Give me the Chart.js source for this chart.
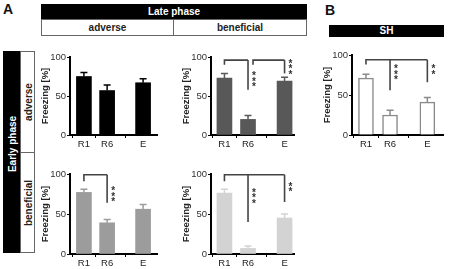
<!DOCTYPE html>
<html>
<head>
<meta charset="utf-8">
<script src="https://cdn.jsdelivr.net/npm/chart.js@4.4.1/dist/chart.umd.min.js"></script>
<style>
body { margin: 0; background: #fff; font-family: "Liberation Sans", Arial, sans-serif; }
#fig { position: relative; width: 454px; height: 269px; overflow: hidden; }
.abs { position: absolute; box-sizing: border-box; }
.blk { background: #000; color: #fff; font-weight: bold; font-size: 10px; text-align: center; }
.cell { border: 1px solid #666; color: #222; font-weight: bold; font-size: 10px; text-align: center; }
.rot { position: absolute; left: 50%; top: 50%; transform: translate(-50%, -50%) rotate(-90deg); white-space: nowrap; }
.letter { font-weight: bold; font-size: 14px; color: #111; }
canvas { position: absolute; }
</style>
</head>
<body>
<div id="fig">
  <div class="abs letter" style="left:3px; top:1px;">A</div>
  <div class="abs letter" style="left:325px; top:2px;">B</div>

  <div class="abs blk" style="left:41px; top:4px; width:266px; height:15px; line-height:15px;">Late phase</div>
  <div class="abs cell" style="left:41px; top:19px; width:133px; height:17px; line-height:15px;">adverse</div>
  <div class="abs cell" style="left:173px; top:19px; width:134px; height:17px; line-height:15px;">beneficial</div>
  <div class="abs blk" style="left:329px; top:25px; width:115px; height:12px; line-height:12px;">SH</div>

  <div class="abs blk" style="left:3px; top:51px; width:18px; height:202px;"><span class="rot" style="top:46%;">Early phase</span></div>
  <div class="abs cell" style="left:20px; top:51px; width:15px; height:102px;"><span class="rot">adverse</span></div>
  <div class="abs cell" style="left:20px; top:152px; width:15px; height:101px;"><span class="rot">beneficial</span></div>

  <canvas id="p1"></canvas>
  <canvas id="p2"></canvas>
  <canvas id="p3"></canvas>
  <canvas id="p4"></canvas>
  <canvas id="pB"></canvas>
</div>

<script>
// groups on the x axis
const groups = ['R1', 'R6', 'E'];

// freezing [%], mean and SEM, per panel
const earlyAdvLateAdv = [75, 57, 67];
const earlyAdvLateAdvErr = [5, 7, 5];
const earlyAdvLateBen = [73, 20, 69];
const earlyAdvLateBenErr = [6, 5, 5];
const earlyBenLateAdv = [77, 39, 56];
const earlyBenLateAdvErr = [4, 4, 6];
const earlyBenLateBen = [76, 7, 45];
const earlyBenLateBenErr = [5, 3, 5];
const sh = [71, 25, 41];
const shErr = [5, 6, 6];

const yTicks = [0, 50, 100];

// significance brackets (value units)
const sig1 = [];
const sig2 = [
	{ from: 0, level: 96, dropFrom: 90, targets: [{ i: 1, to: 58, stars: 3, at: 80 }] },
	{ from: 1, level: 96, dropFrom: 90, shift: 5, targets: [{ i: 2, to: 79, stars: 3, at: 96 }] }
];
const sig3 = [
	{ from: 0, level: 99, dropFrom: 91, targets: [{ i: 1, to: 64, stars: 3, at: 83 }] }
];
const sig4 = [
	{ from: 0, level: 99, dropFrom: 91, targets: [{ i: 1, to: 40, stars: 3, at: 81 }, { i: 2, to: 65, stars: 2, at: 89 }] }
];
const sigB = [
	{ from: 0, level: 94, dropFrom: 88, targets: [{ i: 1, to: 56, stars: 3, at: 87 }, { i: 2, to: 66, stars: 2, at: 87 }] }
];

// where the three groups sit on the linear x axis
const xAt = [1, 2, 3.55];

const AXW = 34, PADT = 12, PADR = 6, XH = 16;

// error bars (upper half) and significance brackets, drawn on top of the bars
function decor(vals, errs, sig, errColor) {
	return {
		id: 'decor',
		afterDatasetsDraw(chart) {
			const ctx = chart.ctx, xs = chart.scales.x, ys = chart.scales.y;
			ctx.save();
			ctx.strokeStyle = errColor;
			ctx.lineWidth = 1.5;
			vals.forEach((v, i) => {
				const x = xs.getPixelForValue(xAt[i]);
				const y0 = ys.getPixelForValue(v);
				const y1 = ys.getPixelForValue(v + errs[i]);
				ctx.beginPath();
				ctx.moveTo(x, y0); ctx.lineTo(x, y1);
				ctx.moveTo(x - 3.5, y1); ctx.lineTo(x + 3.5, y1);
				ctx.stroke();
			});
			ctx.strokeStyle = '#444';
			ctx.lineWidth = 1.6;
			ctx.fillStyle = '#333';
			ctx.font = 'bold 10px "Liberation Sans", Arial';
			ctx.textAlign = 'center';
			ctx.textBaseline = 'top';
			sig.forEach(b => {
				const xa = xs.getPixelForValue(xAt[b.from]) + (b.shift || 0);
				const yl = ys.getPixelForValue(b.level);
				const last = b.targets[b.targets.length - 1];
				const xb = xs.getPixelForValue(xAt[last.i]);
				ctx.beginPath();
				ctx.moveTo(xa, ys.getPixelForValue(b.dropFrom));
				ctx.lineTo(xa, yl);
				ctx.lineTo(xb, yl);
				ctx.stroke();
				b.targets.forEach(t => {
					const xt = xs.getPixelForValue(xAt[t.i]);
					ctx.beginPath();
					ctx.moveTo(xt, yl);
					ctx.lineTo(xt, ys.getPixelForValue(t.to));
					ctx.stroke();
					const ys0 = ys.getPixelForValue(t.at);
					for (let k = 0; k < t.stars; k++) {
						ctx.fillText('*', xt + 6, ys0 + k * 5.5 - 1);
					}
				});
			});
			ctx.restore();
		}
	};
}

function panel(id, box, vals, errs, sig, color) {
	const cv = document.getElementById(id);
	const w = box.R - box.L + AXW + PADR;
	const h = box.B - box.T + PADT + XH;
	cv.width = w; cv.height = h;
	cv.style.left = (box.L - AXW) + 'px';
	cv.style.top = (box.T - PADT) + 'px';
	cv.style.width = w + 'px';
	cv.style.height = h + 'px';
	const fill = color.fill;
	new Chart(cv, {
		type: 'bar',
		data: {
			datasets: [{
				data: vals.map((v, i) => ({ x: xAt[i], y: v })),
				backgroundColor: fill,
				borderColor: color.border || fill,
				borderWidth: color.border ? 1.5 : 0,
				barThickness: 15
			}]
		},
		options: {
			responsive: false,
			animation: false,
			events: [],
			layout: { padding: { top: PADT, right: PADR, left: 0, bottom: 0 } },
			plugins: {
				legend: { display: false },
				tooltip: { enabled: false }
			},
			scales: {
				x: {
					type: 'linear',
					offset: false,
					min: box.xmin, max: box.xmax,
					afterBuildTicks: s => { s.ticks = xAt.map(v => ({ value: v })); },
					afterFit: s => { s.height = XH; },
					ticks: {
						autoSkip: false, maxRotation: 0, padding: 1,
						color: '#222',
						font: { family: '"Liberation Sans", Arial', size: 9.5 },
						callback: (v, i) => groups[i]
					},
					grid: { drawOnChartArea: false, drawTicks: true, tickLength: 3, color: '#000', lineWidth: 1 },
					border: { display: true, color: '#000', width: 2 }
				},
				y: {
					min: 0, max: 100,
					afterBuildTicks: s => { s.ticks = yTicks.map(v => ({ value: v })); },
					afterFit: s => { s.width = AXW; },
					ticks: {
						padding: 1, color: '#333',
						font: { family: '"Liberation Sans", Arial', size: 9.5 }
					},
					grid: { drawOnChartArea: false, drawTicks: true, tickLength: 3, color: '#000', lineWidth: 1 },
					border: { display: true, color: '#000', width: 2 },
					title: {
						display: true, text: 'Freezing [%]', color: '#222',
						padding: { top: 4, bottom: 0 },
						font: { family: '"Liberation Sans", Arial', size: 9.5, weight: 'bold' }
					}
				}
			}
		},
		plugins: [decor(vals, errs, sig, color.border || fill)]
	});
}

panel('p1', { L: 70, R: 157, T: 57, B: 135, xmin: 0.4, xmax: 4.15 }, earlyAdvLateAdv, earlyAdvLateAdvErr, sig1, { fill: '#000' });
panel('p2', { L: 211, R: 294, T: 57, B: 135, xmin: 0.43, xmax: 3.95 }, earlyAdvLateBen, earlyAdvLateBenErr, sig2, { fill: '#585858' });
panel('p3', { L: 70, R: 157, T: 174, B: 254, xmin: 0.4, xmax: 4.15 }, earlyBenLateAdv, earlyBenLateAdvErr, sig3, { fill: '#9c9c9c' });
panel('p4', { L: 211, R: 294, T: 174, B: 254, xmin: 0.43, xmax: 3.95 }, earlyBenLateBen, earlyBenLateBenErr, sig4, { fill: '#d3d3d3' });
panel('pB', { L: 352, R: 443, T: 55, B: 135, xmin: 0.42, xmax: 4.2 }, sh, shErr, sigB, { fill: '#fff', border: '#8a8a8a' });
</script>
</body>
</html>
